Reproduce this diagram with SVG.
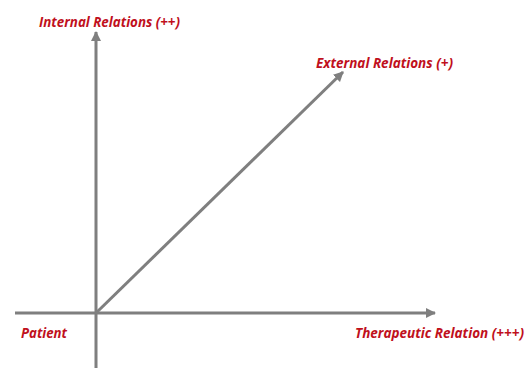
<svg xmlns="http://www.w3.org/2000/svg" width="527" height="368" viewBox="0 0 527 368">
<style>
.ax{stroke:#7f7f7f;stroke-width:3;fill:none}
.lb{font-family:"Open Sans","Liberation Sans",sans-serif;font-weight:bold;font-style:italic;font-size:14.5px;fill:#c0101c}
</style>
<defs>
<marker id="ah" viewBox="0 0 10 10" refX="9" refY="5" markerWidth="3.4" markerHeight="3.4" orient="auto" markerUnits="strokeWidth">
<path d="M0,0 L10,5 L0,10 z" fill="#7f7f7f"/>
</marker>
</defs>
<rect width="527" height="368" fill="#fff"/>
<g id="connectors">
<line class="ax" x1="96" y1="368" x2="96" y2="32" marker-end="url(#ah)"/>
<line class="ax" x1="15" y1="313" x2="435" y2="313" marker-end="url(#ah)"/>
<line class="ax" x1="96" y1="313" x2="343" y2="72" marker-end="url(#ah)"/>
</g>
<g id="internal"><text class="lb" x="39" y="27" textLength="141" lengthAdjust="spacingAndGlyphs">Internal Relations (++)</text></g>
<g id="external"><text class="lb" x="316" y="68" textLength="137" lengthAdjust="spacingAndGlyphs">External Relations (+)</text></g>
<g id="patient"><text class="lb" x="21" y="338" textLength="46" lengthAdjust="spacingAndGlyphs">Patient</text></g>
<g id="therapeutic"><text class="lb" x="355" y="338" style="font-size:13.5px">Therapeutic Relation (+++)</text></g>
</svg>
